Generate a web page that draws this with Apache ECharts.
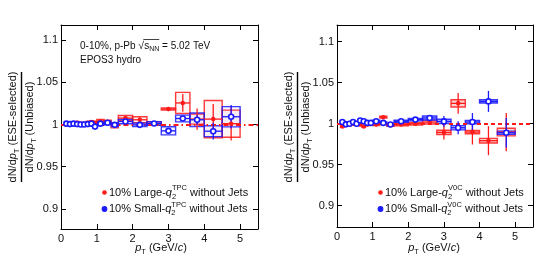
<!DOCTYPE html>
<html><head><meta charset="utf-8">
<script src="https://cdn.jsdelivr.net/npm/echarts@6/dist/echarts.min.js"></script>
<style>html,body{margin:0;padding:0;background:#fff}#c{width:552px;height:266px}</style>
</head><body><div id="c"></div>
<script>
// ---- data ----
const binEdges = [0.1,0.2,0.3,0.4,0.5,0.6,0.7,0.8,0.9,1.0,1.2,1.4,1.6,2.0,2.4,2.8,3.2,3.6,4.0,4.5,5.0];
const ptCenters = [0.15,0.25,0.35,0.45,0.55,0.65,0.75,0.85,0.95,1.1,1.3,1.5,1.8,2.2,2.6,3.0,3.4,3.8,4.25,4.75];
const xTicks = [0,1,2,3,4,5];
const yTicks = [0.9,0.95,1,1.05,1.1];
const refValue = 1;

// left panel (TPC)
const leftLargeVal  = [1.001,1.001,1.001,1.002,1.001,1.001,1.002,1.003,1.002,1.004,1.003,0.999,1.0076,1.0056,1.0012,1.0183,1.0255,1.0064,1.0064,1.001];
const leftLargeStat = [0.001,0.001,0.001,0.001,0.001,0.001,0.001,0.001,0.001,0.0015,0.0015,0.0015,0.002,0.003,0.003,0.0025,0.0105,0.0125,0.018,0.02];
const leftLargeSys  = [0.0015,0.0015,0.0015,0.0015,0.0015,0.0015,0.0015,0.0015,0.0015,0.002,0.002,0.003,0.003,0.0035,0.002,0.0012,0.0125,0.006,0.022,0.016];
const leftSmallVal  = [1.001,1.0005,1.001,1.0005,1.0,1.0,1.0005,1.001,0.9975,1.001,1.002,0.9996,1.0036,0.9996,1.0012,0.9925,1.0071,1.0056,0.9921,1.0092];
const leftSmallStat = [0.001,0.001,0.001,0.001,0.001,0.001,0.001,0.001,0.001,0.001,0.001,0.001,0.002,0.002,0.003,0.003,0.003,0.006,0.0099,0.014];
const leftSmallSys  = [0.0015,0.0015,0.0015,0.0015,0.0015,0.0015,0.0015,0.0015,0.0015,0.002,0.002,0.002,0.0027,0.002,0.002,0.0048,0.004,0.008,0.0065,0.012];

// right panel (V0C)
const rightLargeVal  = [0.9967,1.001,0.999,1.0,1.001,0.999,0.9967,0.999,1.0,0.999,1.008,0.998,0.999,1.0,1.002,0.9894,1.0248,0.9898,0.9793,0.9898];
const rightLargeStat = [0.0012,0.001,0.001,0.001,0.001,0.001,0.0012,0.001,0.001,0.001,0.001,0.0012,0.0015,0.002,0.003,0.0087,0.0128,0.0152,0.0177,0.0234];
const rightLargeSys  = [0.0012,0.0012,0.0012,0.0012,0.0012,0.0012,0.0012,0.0012,0.0012,0.0012,0.0012,0.0012,0.0015,0.0015,0.0024,0.0026,0.0045,0.002,0.0028,0.0047];
const rightSmallVal  = [1.002,0.9992,1.0,1.002,1.0,1.004,1.003,1.001,1.001,1.003,1.001,0.999,1.003,1.005,1.007,1.0028,0.9951,1.002,1.0272,0.989];
const rightSmallStat = [0.001,0.001,0.001,0.001,0.001,0.001,0.001,0.001,0.001,0.001,0.001,0.001,0.0015,0.002,0.003,0.0065,0.008,0.011,0.0128,0.018];
const rightSmallSys  = [0.0012,0.0012,0.0012,0.0012,0.0012,0.0012,0.0012,0.0012,0.0012,0.0012,0.0012,0.0012,0.0012,0.0015,0.0024,0.0026,0.0026,0.002,0.002,0.002];

// ---- styling ----
const RED = '#ff1a1a', BLUE = '#1a1aff';
const FONT = 'Liberation Sans, Arial, sans-serif';

function rows(vals, stat, sys) {
  return ptCenters.map((x, i) => [x, vals[i], binEdges[i], binEdges[i + 1], stat[i], sys[i]]);
}

function boxSeries(idx, data, color, fill, z) {
  return {
    type: 'custom', xAxisIndex: idx * 2, yAxisIndex: idx * 2, z: z, silent: true,
    encode: { x: 0, y: 1 },
    data: data,
    renderItem(params, api) {
      const y = api.value(1), lo = api.value(2), hi = api.value(3), sy = api.value(5);
      const a = api.coord([lo, y + sy]), b = api.coord([hi, y - sy]);
      return {
        type: 'rect',
        shape: { x: a[0], y: a[1], width: b[0] - a[0], height: Math.max(b[1] - a[1], 1) },
        style: { fill: fill, stroke: color, lineWidth: 1.4, opacity: 0.85 }
      };
    }
  };
}

function barSeries(idx, data, color, z) {
  return {
    type: 'custom', xAxisIndex: idx * 2, yAxisIndex: idx * 2, z: z, silent: true,
    encode: { x: 0, y: 1 },
    data: data,
    renderItem(params, api) {
      const x = api.value(0), y = api.value(1), lo = api.value(2), hi = api.value(3), st = api.value(4);
      const h1 = api.coord([lo, y]), h2 = api.coord([hi, y]);
      const v1 = api.coord([x, y + st]), v2 = api.coord([x, y - st]);
      return {
        type: 'group',
        children: [
          { type: 'line', shape: { x1: h1[0], y1: h1[1], x2: h2[0], y2: h2[1] }, style: { stroke: color, lineWidth: 1.3 } },
          { type: 'line', shape: { x1: v1[0], y1: v1[1], x2: v2[0], y2: v2[1] }, style: { stroke: color, lineWidth: 1.3 } }
        ]
      };
    }
  };
}

function markerSeries(idx, data, color, open, z) {
  return {
    type: 'scatter', xAxisIndex: idx * 2, yAxisIndex: idx * 2, z: z, silent: true,
    data: data.map(d => [d[0], d[1]]),
    symbol: 'circle', symbolSize: open ? 5 : 4.5,
    itemStyle: open ? { color: '#fff', borderColor: color, borderWidth: 1.6, opacity: 1 } : { color: color, opacity: 1 }
  };
}

function refLine(idx, dash, w) {
  return {
    type: 'line', xAxisIndex: idx * 2, yAxisIndex: idx * 2, z: 1, silent: true,
    data: [], symbol: 'none',
    markLine: {
      silent: true, symbol: 'none', label: { show: false },
      lineStyle: { color: RED, type: dash, width: w },
      data: [{ yAxis: refValue }]
    }
  };
}

const grids = [
  { left: 61, top: 25, width: 197, height: 204 },
  { left: 337, top: 25, width: 196, height: 202 }
];
const yRanges = [[0.8763, 1.1178], [0.874, 1.1204]];

const xAxes = [], yAxes = [];
grids.forEach((g, i) => {
  const tickCommon = { show: true, inside: true, length: 5, lineStyle: { color: '#000', width: 1 } };
  xAxes.push({
    type: 'value', gridIndex: i, min: 0, max: 5.5, interval: 1, position: 'bottom',
    axisLine: { show: true, onZero: false, lineStyle: { color: '#000', width: 1 } },
    axisTick: tickCommon, splitLine: { show: false },
    axisLabel: { show: true, margin: 4, color: '#111', fontSize: 11, fontFamily: FONT,
      customValues: xTicks, formatter: v => String(v) }
  });
  xAxes.push({
    type: 'value', gridIndex: i, min: 0, max: 5.5, interval: 1, position: 'top',
    axisLine: { show: true, onZero: false, lineStyle: { color: '#000', width: 1 } },
    axisTick: tickCommon, splitLine: { show: false }, axisLabel: { show: false }
  });
  yAxes.push({
    type: 'value', gridIndex: i, min: yRanges[i][0], max: yRanges[i][1], position: 'left',
    axisLine: { show: true, onZero: false, lineStyle: { color: '#000', width: 1 } },
    axisTick: Object.assign({ customValues: yTicks }, tickCommon), splitLine: { show: false },
    axisLabel: { show: true, margin: 3, color: '#111', fontSize: 11, fontFamily: FONT,
      customValues: yTicks, formatter: v => String(+v.toFixed(2)) }
  });
  yAxes.push({
    type: 'value', gridIndex: i, min: yRanges[i][0], max: yRanges[i][1], position: 'right',
    axisLine: { show: true, onZero: false, lineStyle: { color: '#000', width: 1 } },
    axisTick: Object.assign({ customValues: yTicks }, tickCommon), splitLine: { show: false },
    axisLabel: { show: false }
  });
});

const dL = rows(leftLargeVal, leftLargeStat, leftLargeSys);
const dLs = rows(leftSmallVal, leftSmallStat, leftSmallSys);
const dR = rows(rightLargeVal, rightLargeStat, rightLargeSys);
const dRs = rows(rightSmallVal, rightSmallStat, rightSmallSys);

const series = [
  refLine(0, [5, 3, 1.5, 3], 2.2),
  refLine(1, [4, 3], 2),
  boxSeries(0, dL, RED, 'rgba(255,60,60,0.06)', 2),
  boxSeries(0, dLs, BLUE, 'rgba(60,60,255,0.06)', 3),
  boxSeries(1, dR, RED, 'rgba(255,60,60,0.28)', 2),
  boxSeries(1, dRs, BLUE, 'rgba(60,60,255,0.35)', 3),
  barSeries(0, dL, RED, 4), barSeries(0, dLs, BLUE, 5),
  barSeries(1, dR, RED, 4), barSeries(1, dRs, BLUE, 5),
  markerSeries(0, dL, RED, false, 6), markerSeries(0, dLs, BLUE, true, 7),
  markerSeries(1, dR, RED, false, 6), markerSeries(1, dRs, BLUE, true, 7)
];

// ---- text helpers (rich labels with sub/superscripts) ----
const mctx = document.createElement('canvas').getContext('2d');
function layout(frags, color) {
  let x = 0, stackW = 0; const els = []; const xs = [];
  frags.forEach(f => {
    const font = (f.it ? 'italic ' : '') + f.s + 'px ' + FONT;
    mctx.font = (f.it ? 'italic ' : '') + f.s + 'px "Liberation Sans"';
    const w = mctx.measureText(f.t).width;
    xs.push(x);
    els.push({ type: 'text', x: x, y: f.dy || 0, silent: true,
      style: { text: f.t, fontSize: f.s, fontFamily: FONT, fontStyle: f.it ? 'italic' : 'normal',
        fill: color || '#111', align: 'left', verticalAlign: 'middle' } });
    if (f.stack) { stackW = Math.max(stackW, w); } else { x += Math.max(w, stackW); stackW = 0; }
  });
  return { els, xs, width: x };
}
function textAt(frags, x, y, opts) {
  opts = opts || {};
  const L = layout(frags, opts.color);
  let ox = 0;
  if (opts.center) ox = -L.width / 2;
  L.els.forEach(e => { e.x += ox; });
  const extra = opts.extra ? opts.extra(L, ox) : [];
  return { type: 'group', x: x, y: y, rotation: opts.rot || 0, children: L.els.concat(extra) };
}

const graphics = [];
// header (left panel)
graphics.push(textAt([
  { t: '0-10%, p-Pb ', s: 10 }, { t: '\u221A', s: 10.5 }, { t: 's', s: 10 }, { t: 'NN', s: 7, dy: 3 }, { t: ' = 5.02 TeV', s: 10 }
], 80, 46, { extra: (L, ox) => [{ type: 'line', silent: true,
  shape: { x1: L.xs[1] + 5, y1: -6.5, x2: L.xs[4], y2: -6.5 }, style: { stroke: '#111', lineWidth: 0.8 } }] }));
graphics.push(textAt([{ t: 'EPOS3 hydro', s: 10 }], 80, 60));

// legends
function legend(px, py, color, label, sup, open) {
  graphics.push({ type: 'circle', x: px, y: py, silent: true, shape: { r: 2.3 },
    style: open ? { fill: color, stroke: color, lineWidth: 1.2 } : { fill: color } });
  graphics.push(textAt([
    { t: label, s: 11 }, { t: 'q', s: 11, it: true }, { t: '2', s: 7.5, dy: 4, stack: true },
    { t: sup, s: 7.5, dy: -4.5 }, { t: ' without Jets', s: 11 }
  ], px + 4.5, py, { color: '#111' }));
}
legend(104.5, 192.5, RED, '10% Large-', 'TPC', false);
legend(104.5, 209, BLUE, '10% Small-', 'TPC', true);
legend(380.5, 192.5, RED, '10% Large-', 'V0C', false);
legend(380.5, 209, BLUE, '10% Small-', 'V0C', true);

// axis titles
[[161, 0], [434, 276]].forEach(([cx, off]) => {
  graphics.push(textAt([
    { t: 'p', s: 11, it: true }, { t: 'T', s: 7.5, dy: 4 }, { t: ' (GeV/', s: 11 }, { t: 'c', s: 11, it: true }, { t: ')', s: 11 }
  ], cx, 248, { center: true }));
  const numer = [{ t: 'dN/d', s: 11 }, { t: 'p', s: 11, it: true }, { t: 'T', s: 7.5, dy: 4 }, { t: ' (ESE-selected)', s: 11 }];
  const denom = [{ t: 'dN/d', s: 11 }, { t: 'p', s: 11, it: true }, { t: 'T', s: 7.5, dy: 4 }, { t: ' (Unbiased)', s: 11 }];
  graphics.push(textAt(numer, 13 + off, 127, { center: true, rot: Math.PI / 2 }));
  graphics.push(textAt(denom, 29.5 + off, 127, { center: true, rot: Math.PI / 2 }));
  graphics.push({ type: 'line', silent: true, shape: { x1: 21.5 + off, y1: 72, x2: 21.5 + off, y2: 182 },
    style: { stroke: '#000', lineWidth: 1.4 } });
});

const chart = echarts.init(document.getElementById('c'), null, { renderer: 'canvas' });
chart.setOption({
  animation: false,
  backgroundColor: '#fff',
  grid: grids,
  xAxis: xAxes,
  yAxis: yAxes,
  series: series,
  graphic: graphics
});
</script></body></html>
